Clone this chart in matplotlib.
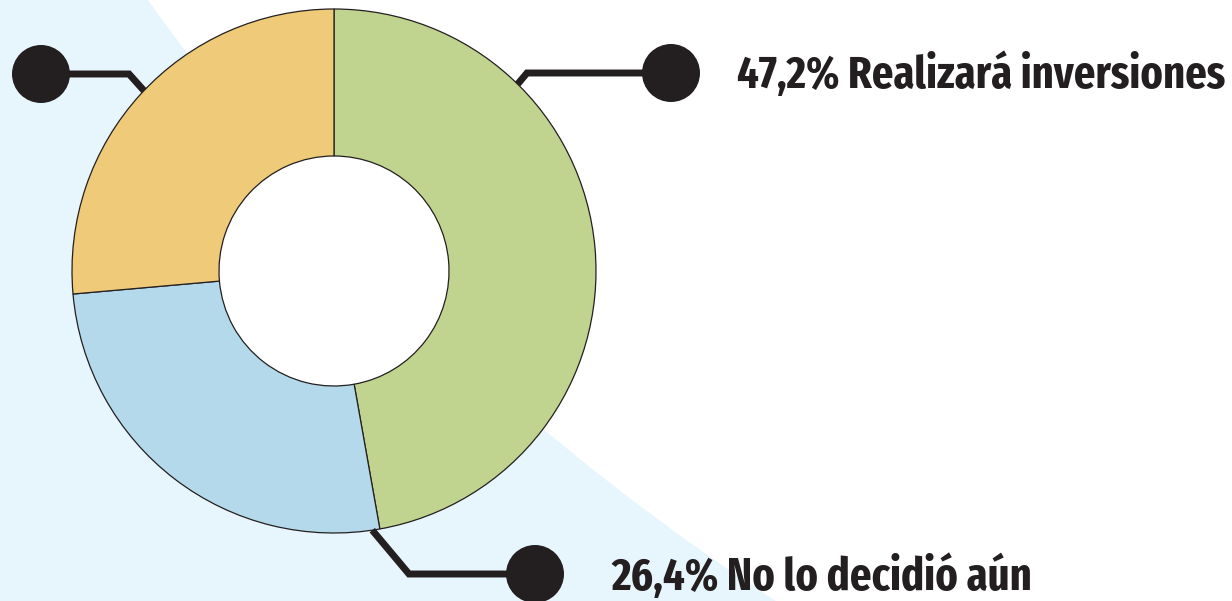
import matplotlib
matplotlib.use("Agg")
import matplotlib.pyplot as plt
from matplotlib import font_manager as fm
from matplotlib.patches import Circle, Rectangle
import numpy as np

# ---- data ----
categories = ["Realizará inversiones", "No lo decidió aún", "Otro"]
values = [47.2, 26.4, 26.4]
labels = ["47,2% Realizará inversiones", "26,4% No lo decidió aún", None]
colors = ["#C1D48F", "#B4D9EA", "#EECA79"]

W, H = 1232, 601
DARK = "#231F20"
BG_BLUE = "#E7F5FC"

# condensed bold font (falls back to DejaVu Sans if none available)
installed = {f.name for f in fm.fontManager.ttflist}
family = "DejaVu Sans"
for fam in ["Fira Sans Extra Condensed", "Fira Sans Condensed", "Roboto Condensed",
            "PT Sans Narrow", "Liberation Sans Narrow"]:
    if fam in installed:
        family = fam
        break

fig = plt.figure(figsize=(W / 100, H / 100), dpi=100)
ax = fig.add_axes([0, 0, 1, 1])

def Y(y):  # image-pixel y (top-down) to data y
    return H - y

ax.add_patch(Rectangle((0, 0), W, H, facecolor=BG_BLUE, edgecolor="none", zorder=0))
ax.add_patch(Circle((2032, Y(-1340)), 2312, facecolor="white", edgecolor="none", zorder=0.5))

cx, cy = 334, 271
R, r = 262, 115
ax.pie(values, colors=colors, center=(cx, Y(cy)), radius=R, startangle=90,
       counterclock=False,
       wedgeprops=dict(width=R - r, edgecolor=DARK, linewidth=0.9, zorder=2))
ax.add_patch(Circle((cx, Y(cy)), r, facecolor="white", edgecolor="none", zorder=1.5))

lw = 5.0
dot_r = 29
renderer = fig.canvas.get_renderer()

def leader(angle_deg, elbow, dot, label=None, text_x=None, text_base=None, text_right=None):
    a = np.deg2rad(angle_deg)
    px, py = cx + R * np.cos(a), cy - R * np.sin(a)
    xs = [px, elbow[0], dot[0]]
    ys = [Y(py), Y(elbow[1]), Y(dot[1])]
    ax.plot(xs, ys, color=DARK, lw=lw, solid_joinstyle="miter", solid_capstyle="butt", zorder=3)
    ax.add_patch(Circle((dot[0], Y(dot[1])), dot_r, facecolor=DARK, edgecolor="none", zorder=4))
    if label:
        t = ax.text(text_x, Y(text_base), label, family=[family, "DejaVu Sans"], fontweight="bold",
                    color=DARK, ha="left", va="baseline", zorder=5, fontsize=32)
        w = t.get_window_extent(renderer).width
        target = text_right - text_x
        t.set_fontsize(32 * target / w)

leader(45.5, (527, 73), (671, 73), labels[0], 737, 88, 1225)
leader(-81.6, (409, 574), (535, 574), labels[1], 611, 590, 1031)
leader(136.5, (129, 74), (41, 74))

ax.set_xlim(0, W)
ax.set_ylim(0, H)
ax.set_aspect("auto")
ax.axis("off")

fig.savefig("out.png", dpi=100)
